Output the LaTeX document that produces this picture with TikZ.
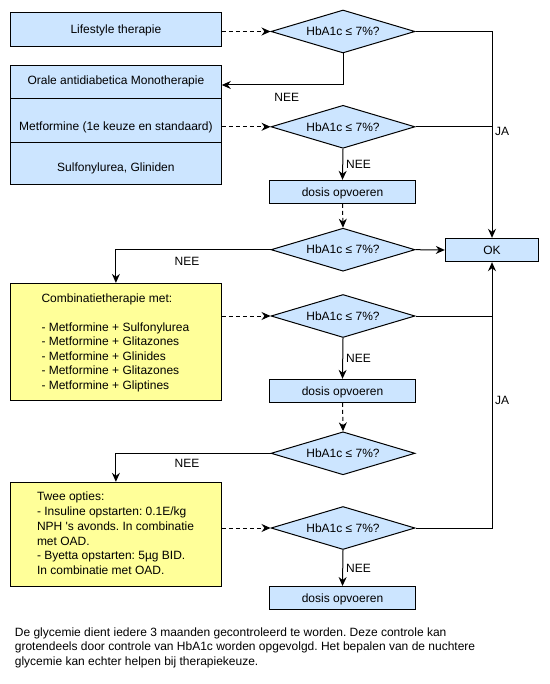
\documentclass[tikz,border=0pt]{standalone}
\usepackage{fontspec}
\setmainfont{Liberation Sans}
\usetikzlibrary{shapes.geometric,arrows.meta,calc}
\definecolor{boxblue}{HTML}{CCE5FF}
\definecolor{boxyellow}{HTML}{FFFF99}
\frenchspacing
\begin{document}
\begin{tikzpicture}[x=1pt,y=-1pt,
  every node/.style={font=\fontsize{12}{14.6}\selectfont\frenchspacing, inner sep=0pt},
  oneline/.style={text height=8.6pt, text depth=0pt},
  bluebox/.style={oneline, draw, fill=boxblue, line width=1pt, minimum width=146.3pt, minimum height=23pt},
  bigbox/.style={draw, line width=1pt, minimum width=210.8pt},
  dec/.style={oneline, diamond, draw, fill=boxblue, line width=1pt, minimum width=144pt, minimum height=43pt, shape aspect=3.3},
  lbl/.style={oneline},
  conn/.style={line width=1pt},
  arr/.style={line width=1pt, -{Stealth[length=9pt,width=8pt,inset=3pt]}},
  dasharrow/.style={line width=1pt, dash pattern=on 4pt off 3pt, -{Stealth[length=9pt,width=8pt,inset=3pt]}},
]
\useasboundingbox (0,0) rectangle (549,684);

% left column
\node[bigbox, fill=boxblue, oneline, minimum height=34.4pt] (life) at (115.9,29.5) {Lifestyle therapie};
\node[bigbox, fill=boxblue, minimum height=118.6pt] (mono) at (115.9,125) {};
\draw[conn] ($(mono.north west)+(0,33.6)$) -- ($(mono.north east)+(0,33.6)$);
\draw[conn] ($(mono.north west)+(0,77.6)$) -- ($(mono.north east)+(0,77.6)$);
\node[lbl] (mt1) at (115.9,80.3) {Orale antidiabetica Monotherapie};
\node[lbl] (mt2) at (115.9,126) {Metformine (1e keuze en standaard)};
\node[lbl] (mt3) at (115.9,167.3) {Sulfonylurea, Gliniden};

\node[bigbox, fill=boxyellow, minimum height=116.7pt] (y1) at (115.9,341.7) {};
\node[anchor=north west, align=left, font=\fontsize{12}{14.5}\selectfont\frenchspacing] (y1t) at (41.3,293.3)
  {Combinatietherapie met:\\[14.5pt]
   - Metformine + Sulfonylurea\\
   - Metformine + Glitazones\\
   - Metformine + Glinides\\
   - Metformine + Glitazones\\
   - Metformine + Gliptines};

\node[bigbox, fill=boxyellow, minimum height=104.4pt] (y2) at (115.9,534.5) {};
\node[anchor=north west, align=left, font=\fontsize{12}{14.8}\selectfont\frenchspacing] (y2t) at (36.8,491.7)
  {Twee opties:\\
   - Insuline opstarten: 0.1E/kg\\
   NPH \textquotesingle s avonds. In combinatie\\
   met OAD.\\
   - Byetta opstarten: 5µg BID.\\
   In combinatie met OAD.};

% middle column
\node[dec] (d1) at (343,31.5) {HbA1c ≤ 7\%?};
\node[dec] (d2) at (343,126.8) {HbA1c ≤ 7\%?};
\node[bluebox] (dz1) at (342.5,191.8) {dosis opvoeren};
\node[dec] (d3) at (343,249.7) {HbA1c ≤ 7\%?};
\node[dec] (d4) at (343,316) {HbA1c ≤ 7\%?};
\node[bluebox] (dz2) at (342.5,390.8) {dosis opvoeren};
\node[dec] (d5) at (343,453.3) {HbA1c ≤ 7\%?};
\node[dec] (d6) at (343,528) {HbA1c ≤ 7\%?};
\node[bluebox] (dz3) at (342.5,598) {dosis opvoeren};

% right column
\node[bluebox, minimum width=93.4pt, minimum height=23.4pt] (ok) at (492,250) {OK};

% labels
\node[lbl] (n1) at (286.7,97.7) {NEE};
\node[lbl] (n2) at (358.5,164.3) {NEE};
\node[lbl] (n3) at (187,261) {NEE};
\node[lbl] (n4) at (358.5,358.3) {NEE};
\node[lbl] (n5) at (187,463.3) {NEE};
\node[lbl] (n6) at (358.5,568.3) {NEE};
\node[lbl] (ja1) at (502,131) {JA};
\node[lbl] (ja2) at (502,400) {JA};

% footer
\node[anchor=north west, align=left, font=\fontsize{12}{14.5}\selectfont\frenchspacing] (foot) at (14.7,627.4)
  {De glycemie dient iedere 3 maanden gecontroleerd te worden. Deze controle kan\\
   grotendeels door controle van HbA1c worden opgevolgd. Het bepalen van de nuchtere\\
   glycemie kan echter helpen bij therapiekeuze.};

% connectors
\coordinate (yA) at (0,85);
\draw[dasharrow] (life.east |- d1.west) -- (d1.west);
\draw[arr] (d1.south) |- (mono.east |- yA);
\draw[dasharrow] (mono.east |- d2.west) -- (d2.west);
\draw[arr] (d1.east) -| (ok.north);
\draw[conn] (d2.east) -- (ok.north |- d2.east);
\draw[arr] (d2.south) -- (dz1.north);
\draw[dasharrow] (dz1.south) -- (d3.north);
\draw[arr] (d3.east) -- (ok.west);
\draw[arr] (d3.west) -| (y1.north);
\draw[dasharrow] (y1.east |- d4.west) -- (d4.west);
\draw[conn] (d4.east) -- (ok.south |- d4.east);
\draw[arr] (d6.east) -| (ok.south);
\draw[arr] (d4.south) -- (dz2.north);
\draw[dasharrow] (dz2.south) -- (d5.north);
\draw[arr] (d5.west) -| (y2.north);
\draw[dasharrow] (y2.east |- d6.west) -- (d6.west);
\draw[arr] (d6.south) -- (dz3.north);
\end{tikzpicture}
\end{document}
